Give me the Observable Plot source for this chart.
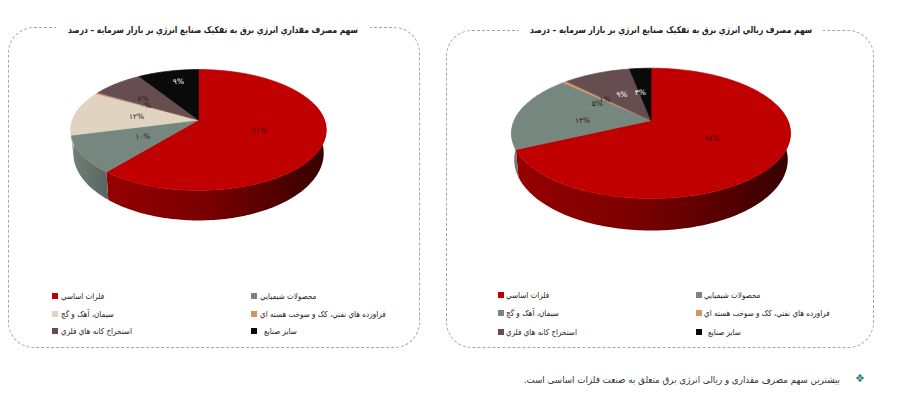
<!DOCTYPE html>
<html lang="fa">
<head>
<meta charset="utf-8">
<script src="https://cdn.jsdelivr.net/npm/d3@7"></script>
<script src="https://cdn.jsdelivr.net/npm/@observablehq/plot@0.6"></script>
<style>
  html, body { margin: 0; padding: 0; background: #fff; }
  body { position: relative; width: 900px; height: 419px; overflow: hidden; font-family: "DejaVu Sans", sans-serif; color: #2b2b2b; }
  .panel { position: absolute; box-sizing: border-box; border: 1px dashed #a6a6a6; border-radius: 26px; }
  .title { position: absolute; background: #fff; display: flex; justify-content: center; line-height: 14px; white-space: nowrap; }
  .title span { flex: none; font-size: 9.3px; font-weight: 700; direction: rtl; color: #222; transform: scaleX(0.81); transform-origin: center; }
  .chart { position: absolute; }
  .chart svg { display: block; background: transparent; }
  .legend-item { position: absolute; font-size: 8.4px; line-height: 10px; white-space: nowrap; color: #262626; }
  .legend-item i { position: absolute; left: 0; top: 2px; width: 6px; height: 6px; }
  .legend-item span { position: absolute; top: 0; direction: rtl; transform: scaleX(0.86); transform-origin: left center; }
  .note { position: absolute; left: 440px; top: 372px; width: 400px; text-align: right; direction: rtl; font-size: 9.6px; line-height: 16px; color: #333; white-space: nowrap; transform: scaleX(0.91); transform-origin: right center; }
  .bullet { position: absolute; left: 855px; top: 371px; font-size: 11px; line-height: 16px; color: #1f7f70; }
</style>
</head>
<body>
<script>
// ---- data ----
const categories = [
  "فلزات اساسي",
  "محصولات شيميايي",
  "سيمان، آهک و گچ",
  "فراورده هاي نفتي، کک و سوخت هسته اي",
  "استخراج کانه هاي فلزي",
  "ساير صنايع"
];
const quantityShares = [61, 10, 12, 0.4, 7.6, 9];
const quantityLabels = ["۶۱%", "۱۰%", "۱۲%", "۰%", "۸%", "۹%"];
const rialShares = [68, 14, 5, 0.6, 9.4, 3];
const rialLabels = ["۶۸%", "۱۴%", "۵%", "۱%", "۹%", "۳%"];
const quantityColors = ["#c00000", "#76877f", "#e0d3c0", "#cf9468", "#664e50", "#0a0a0a"];
const rialColors = ["#c00000", "#76877f", "#76877f", "#cf9468", "#664e50", "#0a0a0a"];
const quantityLabelColors = ["#2a1010", "#222", "#222", "#222", "#222", "#fff"];
const rialLabelColors = ["#2a1010", "#222", "#222", "#222", "#fff", "#fff"];
const quantityTitle = "سهم مصرف مقداري انرژي برق به تفکيک صنايع انرژي بر بازار سرمايه – درصد";
const rialTitle = "سهم مصرف ريالي انرژي برق به تفکيک صنايع انرژي بر بازار سرمايه – درصد";
const noteText = "بیشترین سهم مصرف مقداری و ریالی  انرژی برق متعلق به صنعت فلزات اساسی است.";

// ---- page furniture and projection settings ----
const layouts = [
  { shares: quantityShares, labels: quantityLabels, colors: quantityColors, labelColors: quantityLabelColors, title: quantityTitle,
    box: [8, 27, 412, 321], titleBox: [56, 23, 314], svg: [0, 50, 430, 190],
    top: { cx: 198, cy: 119.5, a: 126, b: 58.8, p: 0.165 }, low: { cy: 141.5, a: 123.5, b: 65.5, p: 0.165 },
    nudge: { 4: [-0.10, 0.03], 5: [-0.03, 0.2] },
    legendX: [52, 251], legendY: [296, 314, 331], legendGap: 9 },
  { shares: rialShares, labels: rialLabels, colors: rialColors, labelColors: rialLabelColors, title: rialTitle,
    box: [446, 30, 428, 318], titleBox: [519, 23, 304], svg: [440, 50, 450, 200],
    top: { cx: 650.5, cy: 120, a: 136.8, b: 62.6, p: 0.197 }, low: { cy: 145, a: 134, b: 68, p: 0.2 },
    nudge: { 5: [-0.035, 0] },
    legendX: [498, 696], legendY: [295, 313, 332], legendGap: 8 }
];

function el(tag, cls, parent) {
  const e = document.createElement(tag);
  if (cls) e.className = cls;
  (parent || document.body).appendChild(e);
  return e;
}

function pieChart(cfg, index) {
  const [sx, sy, sw, sh] = cfg.svg;
  const t = cfg.top, l = cfg.low;
  const total = d3.sum(cfg.shares);
  let running = 0;
  const slices = cfg.shares.map((v, i) => {
    const s = { i, cat: categories[i], start: running / total * 2 * Math.PI };
    running += v;
    s.end = running / total * 2 * Math.PI;
    return s;
  });
  // Disc coordinates, in units of the top disc's scale; the perspective divides by w.
  const topPt = (th, r = 1) => {
    const u = r * Math.sin(th), v = r * Math.cos(th), w = 1 + t.p * v;
    return { x: u / w, y: v / w };
  };
  const lowPt = (th) => {
    const u = Math.sin(th), v = Math.cos(th), w = 1 + l.p * v;
    return { x: (l.a / t.a) * u / w, y: (l.b * v / w - (l.cy - t.cy)) / t.b };
  };
  const arcAngles = (a0, a1) => {
    const n = Math.max(2, Math.ceil((a1 - a0) / 0.02));
    return d3.range(n + 1).map(k => a0 + (a1 - a0) * k / n);
  };
  const faces = slices.flatMap(s => [
    { cat: s.cat, x: 0, y: 0 },
    ...arcAngles(s.start, s.end).map(th => ({ cat: s.cat, ...topPt(th) })),
    { cat: s.cat, x: 0, y: 0 }
  ]);
  const frontStart = 75 * Math.PI / 180, frontEnd = 285 * Math.PI / 180;
  const sideMarks = slices.flatMap(s => {
    const a0 = Math.max(s.start, frontStart), a1 = Math.min(s.end, frontEnd);
    if (a1 <= a0) return [];
    const ang = arcAngles(a0, a1);
    const pts = [...ang.map(a => topPt(a)), ...ang.slice().reverse().map(lowPt)];
    return [Plot.line(pts, { x: "x", y: "y", fill: `url(#side-${index}-${s.i})`, stroke: null })];
  });
  const labelData = slices.map(s => {
    const p = topPt((s.start + s.end) / 2, 0.5);
    const [dx, dy] = cfg.nudge[s.i] || [0, 0];
    return { x: p.x + dx, y: p.y + dy, label: cfg.labels[s.i], color: cfg.labelColors[s.i] };
  });
  const chart = Plot.plot({
    width: sw, height: sh,
    margin: 0,
    x: { domain: [(sx - t.cx) / t.a, (sx + sw - t.cx) / t.a], axis: null },
    y: { domain: [(t.cy - sy - sh) / t.b, (t.cy - sy) / t.b], axis: null },
    color: { domain: categories, range: cfg.colors },
    style: { background: "transparent", overflow: "visible" },
    marks: [
      ...sideMarks,
      Plot.line(faces, { x: "x", y: "y", z: "cat", fill: "cat", stroke: "cat", strokeWidth: 0.7 }),
      Plot.text(labelData, { x: "x", y: "y", text: "label", fill: "color", fontSize: 7.5, fontFamily: "DejaVu Sans" })
    ]
  });
  // Side wall shading
  const defs = d3.select(chart).append("defs");
  slices.forEach(s => {
    const base = d3.color(cfg.colors[s.i]);
    const stops = s.i === 0
      ? [[0, "#950000"], [0.45, "#7a0000"], [1, "#370000"]]
      : [[0, base.darker(0.15).formatHex()], [1, base.darker(0.8).formatHex()]];
    const g = defs.append("linearGradient").attr("id", `side-${index}-${s.i}`);
    stops.forEach(([o, c]) => g.append("stop").attr("offset", o).attr("stop-color", c));
  });
  return chart;
}

layouts.forEach((cfg, index) => {
  const panel = el("div", "panel");
  const [bx, by, bw, bh] = cfg.box;
  Object.assign(panel.style, { left: bx + "px", top: by + "px", width: bw + "px", height: bh + "px" });
  const title = el("div", "title");
  Object.assign(title.style, { left: cfg.titleBox[0] + "px", top: cfg.titleBox[1] + "px", width: cfg.titleBox[2] + "px" });
  el("span", "", title).textContent = cfg.title;
  const holder = el("div", "chart");
  Object.assign(holder.style, { left: cfg.svg[0] + "px", top: cfg.svg[1] + "px" });
  holder.appendChild(pieChart(cfg, index));
  // Legend: two columns, three rows
  const order = [[0, 0, 0], [1, 1, 0], [2, 0, 1], [3, 1, 1], [4, 0, 2], [5, 1, 2]];
  order.forEach(([i, c, r]) => {
    const item = el("div", "legend-item");
    Object.assign(item.style, { left: cfg.legendX[c] + "px", top: (cfg.legendY[r] - 5) + "px" });
    const sq = el("i", "", item);
    sq.style.background = cfg.colors[i];
    const sp = el("span", "", item);
    sp.style.left = cfg.legendGap + (i === 5 ? 4 : 0) + "px";
    sp.textContent = categories[i];
  });
});
el("div", "note").textContent = noteText;
el("div", "bullet").textContent = "❖";
</script>
</body>
</html>
